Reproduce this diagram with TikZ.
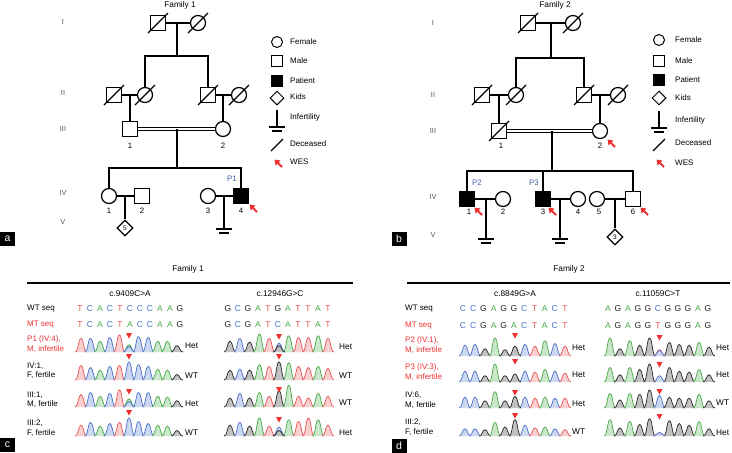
\documentclass[tikz,border=0pt]{standalone}
\usepackage{fontspec}
\setmainfont{Liberation Sans}
\usetikzlibrary{shapes.geometric,arrows.meta}
\definecolor{tT}{RGB}{232,82,82}
\definecolor{tC}{RGB}{72,112,200}
\definecolor{tA}{RGB}{70,168,70}
\definecolor{tG}{RGB}{35,35,35}
\definecolor{wred}{RGB}{238,48,48}
\definecolor{pblue}{RGB}{68,98,170}
\tikzset{
  ped/.style={line width=1.25pt},
  male/.style={draw,line width=1.25pt,minimum size=15pt,inner sep=0pt},
  female/.style={male,circle},
  patient/.style={male,fill=black},
  kid/.style={draw,diamond,line width=1.25pt,minimum size=16pt,inner sep=0pt,font=\fontsize{6.5}{7}\selectfont},
  lmale/.style={draw,line width=1pt,minimum size=11pt,inner sep=0pt},
  lfemale/.style={lmale,circle},
  lpatient/.style={lmale,fill=black},
  lkid/.style={draw,diamond,line width=1pt,minimum size=14pt,inner sep=0pt},
  txt/.style={inner sep=0pt,font=\fontsize{7.8}{9.3}\selectfont},
  leg/.style={txt,anchor=west,font=\fontsize{8}{9}\selectfont},
  gen/.style={txt,text=black!65,font=\fontsize{7.5}{8}\selectfont},
  num/.style={txt},
  ptag/.style={txt,text=pblue,font=\fontsize{8}{9}\selectfont},
  title/.style={inner sep=0pt,font=\fontsize{8.3}{9}\selectfont},
  rowlab/.style={txt,anchor=west,align=left,font=\fontsize{8}{9.5}\selectfont},
  call/.style={txt,anchor=west,font=\fontsize{8.3}{9}\selectfont},
  seq/.style={inner sep=0pt,font=\fontsize{8.5}{9}\selectfont},
  sT/.style={seq,text=tT},sC/.style={seq,text=tC},sA/.style={seq,text=tA},sG/.style={seq,text=tG},
  panel/.style={fill=black,text=white,minimum width=15pt,minimum height=14pt,inner sep=0pt,font=\fontsize{10.5}{10.5}\selectfont}
}
\newcommand\dead[1]{\draw[ped]([shift={(-10,10)}]#1.center)--([shift={(10,-10)}]#1.center);}
\newcommand\infert[1]{\draw[ped]([shift={(-8,0)}]#1)--([shift={(8,0)}]#1);\draw[ped]([shift={(-5,4)}]#1)--([shift={(5,4)}]#1);}
\newcommand\wes[2]{\draw[wred,line width=1.8pt,-{Triangle[length=5pt,width=6.5pt]}]({#1+4},{#2+4})--({#1-3.5},{#2-3.5});}
\newcommand\pk[4]{\filldraw[fill=#4!28,draw=#4,line width=.7pt]({#1-6},{#2}) .. controls ({#1-2.5},{#2}) and ({#1-2.8},{#2-#3}) .. ({#1},{#2-#3}) .. controls ({#1+2.8},{#2-#3}) and ({#1+2.5},{#2}) .. ({#1+6},{#2});}
\newcommand\trace[4]{\foreach\b/\h[count=\i]in{#4}{\pk{#1+(\i-1)*#2}{#3}{\h*18}{t\b}}}
\newcommand\seqrow[5]{\foreach\b[count=\i]in{#5}\node[s\b](#1\i)at({#2+(\i-1)*#3},#4){\b};}
\newcommand\tri[2]{\fill[wred]({#1-3},{#2-3})--({#1+3},{#2-3})--({#1},{#2+2.5})--cycle;}
\begin{document}
\begin{tikzpicture}[x=1pt,y=-1pt]
\useasboundingbox(0,0)rectangle(732,453);
\node[title](t1)at(180,5){Family 1};
\foreach\g/\y[count=\k]in{I/22,II/93,III/129,IV/193,V/222}\node[gen](ga\k)at(63,\y){\g};
\node[male](a1)at(158,23){};
\node[female](a2)at(198,23){};
\node[male](a3)at(114,95){};
\node[female](a4)at(145,95){};
\node[male](a5)at(208,95){};
\node[female](a6)at(239,95){};
\node[male](a7)at(130,129){};
\node[female](a8)at(223,129){};
\node[female](a9)at(109,196){};
\node[male](a10)at(142,196){};
\node[female](a11)at(208,196){};
\node[patient](a12)at(241,196){};
\node[kid](a13)at(125,228){5};
\coordinate(a14)at(224,229);
\coordinate(s1)at(177,56);
\coordinate(s2)at(177,168);
\draw[ped](a1)--(a2);
\draw[ped](s1)--(s1|-a1);
\draw[ped](a4.north)|-(s1)-|(a5.north);
\draw[ped](a3)--(a4);
\draw[ped](a5)--(a6);
\draw[ped](a7.north)--(a7|-a3);
\draw[ped](a8.north)--(a8|-a6);
\draw[double distance=1.8pt,line width=1.1pt](a7)--(a8);
\draw[ped](s2)--(s2|-a7);
\draw[ped](a9.north)|-(s2)-|(a12.north);
\draw[ped](a9)--(a10);
\draw[ped](a11)--(a12);
\draw[ped](a13.north)--(a13|-a9);
\draw[ped](a14)--(a14|-a11);
\infert{a14}
\foreach\n in{1,...,6}{\dead{a\n}}
\node[num](na1)at(130,146){1};
\node[num](na2)at(223,146){2};
\node[num](na3)at(109,211){1};
\node[num](na4)at(142,211){2};
\node[num](na5)at(208,211){3};
\node[num](na6)at(241,211){4};
\node[ptag](pa1)at(232,179){P1};
\wes{253}{208}
\node[lfemale](la1)at(277,42){};
\node[leg](lta1)at(290,42){Female};
\node[lmale](la2)at(277,61){};
\node[leg](lta2)at(290,61){Male};
\node[lpatient](la3)at(277,81){};
\node[leg](lta3)at(290,81){Patient};
\node[lkid](la4)at(277,98){};
\node[leg](lta4)at(290,97){Kids};
\coordinate(la5)at(277,127);
\draw[ped](la5)--(277,110);
\infert{la5}
\node[leg](lta5)at(290,117){Infertility};
\coordinate(la6)at(277,145);
\draw[ped]([shift={(-6,6)}]la6)--([shift={(6,-6)}]la6);
\node[leg](lta6)at(290,144){Deceased};
\wes{278}{163}
\node[leg](lta7)at(290,162){WES};
\node[panel](pa)at(7.5,239){a};
\node[title](t3)at(188,269){Family 1};
\node[title](t2)at(555,5){Family 2};
\foreach\g/\y[count=\k]in{I/23,II/95,III/131,IV/197,V/235}\node[gen](gb\k)at(433,\y){\g};
\node[male](b1)at(528,23){};
\node[female](b2)at(573,23){};
\node[male](b3)at(482,95){};
\node[female](b4)at(516,95){};
\node[male](b5)at(584,95){};
\node[female](b6)at(618,95){};
\node[male](b7)at(499,131){};
\node[female](b8)at(600,131){};
\node[patient](b9)at(467,199){};
\node[female](b10)at(503,199){};
\node[patient](b11)at(543,199){};
\node[female](b12)at(578,199){};
\node[female](b13)at(597,199){};
\node[male](b14)at(633,199){};
\coordinate(b15)at(486,239);
\coordinate(b16)at(560,239);
\node[kid](b17)at(615,237){3};
\coordinate(s3)at(551,58);
\coordinate(s4)at(552,171);
\draw[ped](b1)--(b2);
\draw[ped](s3)--(s3|-b1);
\draw[ped](b4.north)|-(s3)-|(b5.north);
\draw[ped](b3)--(b4);
\draw[ped](b5)--(b6);
\draw[ped](b7.north)--(b7|-b3);
\draw[ped](b8.north)--(b8|-b6);
\draw[double distance=1.8pt,line width=1.1pt](b7)--(b8);
\draw[ped](s4)--(s4|-b7);
\draw[ped](b9.north)|-(s4)-|(b14.north);
\draw[ped](b11.north)--(b11|-s4);
\draw[ped](b9)--(b10);
\draw[ped](b11)--(b12);
\draw[ped](b13)--(b14);
\draw[ped](b15)--(b15|-b9);
\draw[ped](b16)--(b16|-b11);
\draw[ped](b17.north)--(b17|-b13);
\infert{b15}
\infert{b16}
\foreach\n in{1,...,7}{\dead{b\n}}
\node[num](nb1)at(501,146){1};
\node[num](nb2)at(600,146){2};
\node[num](nb3)at(469,212){1};
\node[num](nb4)at(503,212){2};
\node[num](nb5)at(543,212){3};
\node[num](nb6)at(578,212){4};
\node[num](nb7)at(599,212){5};
\node[num](nb8)at(633,212){6};
\node[ptag](pb1)at(477,183){P2};
\node[ptag](pb2)at(534,183){P3};
\wes{611}{143}
\wes{478}{211}
\wes{552}{211}
\wes{644}{211}
\node[lfemale](lb1)at(659,40){};
\node[leg](ltb1)at(675,40){Female};
\node[lmale](lb2)at(659,61){};
\node[leg](ltb2)at(675,61){Male};
\node[lpatient](lb3)at(659,80){};
\node[leg](ltb3)at(675,80){Patient};
\node[lkid](lb4)at(659,98){};
\node[leg](ltb4)at(675,98){Kids};
\coordinate(lb5)at(659,128);
\draw[ped](lb5)--(659,111);
\infert{lb5}
\node[leg](ltb5)at(675,120){Infertility};
\coordinate(lb6)at(659,145);
\draw[ped]([shift={(-6,6)}]lb6)--([shift={(6,-6)}]lb6);
\node[leg](ltb6)at(675,143){Deceased};
\wes{660}{163}
\node[leg](ltb7)at(675,163){WES};
\node[panel](pb)at(399,239){b};
\node[title](t4)at(569,269){Family 2};
\draw[line width=1.3pt](27,283)--(353,283);
\draw[line width=1.3pt](407,283)--(730,283);
\node[title](mc1)at(130,294){c.9409C>A};
\node[title](mc2)at(280,294){c.12946G>C};
\node[rowlab](wc)at(27,309){WT seq};
\node[rowlab,text=wred](mc)at(27,325){MT seq};
\seqrow{wca}{80}{10}{309}{T,C,A,C,T,C,C,C,A,A,G}
\seqrow{mca}{80}{10}{325}{T,C,A,C,T,A,C,C,A,A,G}
\seqrow{wcb}{228}{10}{309}{G,C,G,A,T,G,A,T,T,A,T}
\seqrow{mcb}{228}{10}{325}{G,C,G,A,T,C,A,T,T,A,T}
\node[rowlab,text=wred](rc1)at(27,344){P1 (IV:4),\\M, infertile};
\node[rowlab](rc2)at(27,371){IV:1,\\F, fertile};
\node[rowlab](rc3)at(27,400){III:1,\\M, fertile};
\node[rowlab](rc4)at(27,428){III:2,\\F, fertile};
\trace{81}{9.6}{352}{T/.75,C/.75,A/.6,C/.8,T/.95,A/.4,C/.85,C/.8,A/.6,A/.6,G/.35}
\pk{81+5*9.6}{352}{.3*18}{tC}
\trace{81}{9.6}{380}{T/.8,C/.7,A/.55,C/.75,T/.8,C/1,C/.85,C/.75,A/.6,A/.55,G/.3}
\trace{81}{9.6}{407}{T/.7,C/.8,A/.6,C/.75,T/.95,A/.45,C/.8,C/.8,A/.6,A/.55,G/.35}
\pk{81+5*9.6}{407}{.3*18}{tC}
\trace{81}{9.6}{436}{T/.6,C/.75,A/.55,C/.7,T/.75,C/1,C/.8,C/.7,A/.6,A/.55,G/.3}
\trace{230}{9.8}{352}{G/.6,C/.75,G/.55,A/1,T/.75,C/.5,A/.9,T/.8,T/.8,A/.9,T/.75}
\pk{230+5*9.8}{352}{.35*18}{tG}
\trace{230}{9.8}{380}{G/.55,C/.6,G/.55,A/.85,T/.75,G/1,A/.95,T/.75,T/.7,A/.75,T/.65}
\trace{230}{9.8}{407}{G/.5,C/.75,G/.5,A/.8,T/.6,G/.9,A/1.2,T/.6,T/.5,A/.75,T/.6}
\trace{230}{9.8}{436}{G/.6,C/.75,G/.55,A/1,T/.55,C/.5,A/.9,T/.8,T/1,A/.9,T/.6}
\pk{230+5*9.8}{436}{.3*18}{tG}
\tri{129}{336}
\tri{129}{357}
\tri{129}{392}
\tri{129}{413}
\tri{279}{337}
\tri{279}{357}
\tri{279}{390}
\tri{279}{420}
\node[call](hc1)at(185,346){Het};
\node[call](hc2)at(185,376){WT};
\node[call](hc3)at(185,404){Het};
\node[call](hc4)at(185,433){WT};
\node[call](hc5)at(339,347){Het};
\node[call](hc6)at(339,376){WT};
\node[call](hc7)at(339,403){WT};
\node[call](hc8)at(339,433){Het};
\node[panel](pc)at(7.5,445){c};
\node[title](md1)at(515,294){c.8849G>A};
\node[title](md2)at(658,294){c.11059C>T};
\node[rowlab](wd)at(405,309){WT seq};
\node[rowlab,text=wred](md)at(405,326){MT seq};
\seqrow{wda}{463}{10.2}{309}{C,C,G,A,G,G,C,T,A,C,T}
\seqrow{mda}{463}{10.2}{326}{C,C,G,A,G,A,C,T,A,C,T}
\seqrow{wdb}{608}{10}{309}{A,G,A,G,G,C,G,G,G,A,G}
\seqrow{mdb}{608}{10}{326}{A,G,A,G,G,T,G,G,G,A,G}
\node[rowlab,text=wred](rd1)at(405,345){P2 (IV:1),\\M, infertile};
\node[rowlab,text=wred](rd2)at(405,372){P3 (IV:3),\\M, infertile};
\node[rowlab](rd3)at(405,400){IV:6,\\M, fertile};
\node[rowlab](rd4)at(405,427){III:2,\\F, fertile};
\trace{465}{10}{356}{C/.6,C/.65,G/.4,A/1,G/.35,A/.5,C/.65,T/.55,A/.85,C/.7,T/.55}
\pk{465+5*10}{356}{.55*18}{tG}
\trace{465}{10}{382}{C/.6,C/.6,G/.35,A/1,G/.35,A/.4,C/.6,T/.55,A/.7,C/.6,T/.5}
\pk{465+5*10}{382}{.45*18}{tG}
\trace{465}{10}{408}{C/.6,C/.6,G/.4,A/.9,G/.4,A/.6,C/.6,T/.55,A/.6,C/.55,T/.55}
\pk{465+5*10}{408}{.65*18}{tG}
\trace{465}{10}{436}{C/.4,C/.4,G/.35,A/.75,G/.5,G/.9,C/.6,T/.45,A/.5,C/.4,T/.35}
\trace{610}{9.9}{356}{A/1,G/.4,A/.85,G/.6,G/1,T/.35,G/.75,G/.65,G/.6,A/.75,G/.5}
\pk{610+5*9.9}{356}{.3*18}{tC}
\trace{610}{9.9}{382}{A/.8,G/.4,A/.8,G/.7,G/1,T/.3,G/.8,G/.6,G/.55,A/.7,G/.4}
\pk{610+5*9.9}{382}{.35*18}{tC}
\trace{610}{9.9}{408}{A/.8,G/.45,A/.8,G/.75,G/1,C/.7,G/.6,G/.55,G/.55,A/.75,G/.4}
\trace{610}{9.9}{436}{A/.9,G/.45,A/.8,G/.65,G/.95,T/.2,G/.85,G/.7,G/.6,A/.8,G/.4}
\pk{610+5*9.9}{436}{.2*18}{tC}
\tri{515}{336}
\tri{515}{362}
\tri{515}{393}
\tri{515}{416}
\tri{659.5}{338}
\tri{659.5}{365}
\tri{659.5}{392}
\tri{659.5}{417}
\node[call](hd1)at(572,348){Het};
\node[call](hd2)at(572,375){Het};
\node[call](hd3)at(572,404){Het};
\node[call](hd4)at(572,432){WT};
\node[call](hd5)at(716,348){Het};
\node[call](hd6)at(716,375){Het};
\node[call](hd7)at(716,403){WT};
\node[call](hd8)at(716,433){Het};
\node[panel](pd)at(399,446){d};
\end{tikzpicture}
\end{document}
